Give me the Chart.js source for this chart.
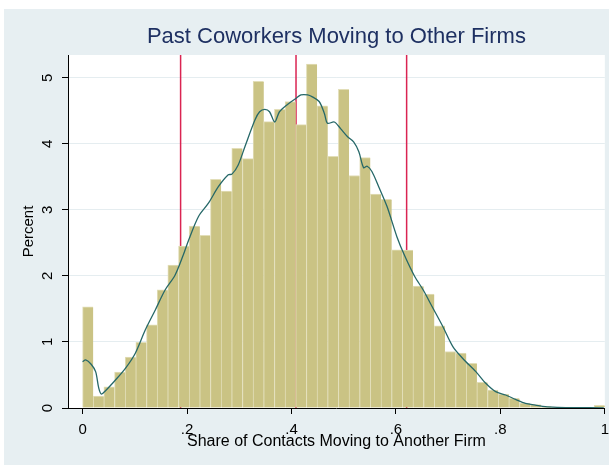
<!DOCTYPE html>
<html><head><meta charset="utf-8">
<script src="https://cdn.jsdelivr.net/npm/chart.js@4/dist/chart.umd.min.js"></script>
<style>html,body{margin:0;padding:0;overflow:hidden;background:#fff}#wrap{width:616px;height:465px}</style>
</head><body><div id="wrap"><canvas id="c" width="616" height="465"></canvas></div>
<script>
// ---- data ----
const BIN_COUNT = 49; // bins of equal width spanning 0..1
const binPercent = [1.53,0.18,0.32,0.545,0.77,0.995,1.26,1.79,2.165,2.45,2.755,2.615,3.46,3.285,3.93,3.775,4.945,
  4.335,4.52,4.64,4.29,5.205,4.575,3.81,4.825,3.52,3.79,3.24,3.16,2.395,2.39,1.845,1.725,1.245,
  0.855,0.83,0.675,0.39,0.27,0.21,0.145,0.075,0.05,0.02,0.012,0.015,0.004,0.003,0.04];
const densityX = [0,0.006,0.016,0.025,0.031,0.036,0.044,0.063,0.082,0.101,0.120,0.139,0.158,0.177,0.193,0.203,0.222,0.241,0.260,0.279,0.286,0.298,0.311,0.330,0.339,0.349,0.358,0.368,0.377,0.393,0.409,0.418,0.431,0.440,0.453,0.463,0.469,0.482,0.494,0.507,0.519,0.529,0.538,0.545,0.554,0.567,0.583,0.602,0.617,0.636,0.652,0.671,0.690,0.709,0.728,0.753,0.772,0.791,0.810,0.829,0.848,0.867,0.886,0.910,0.943,0.998];
const densityY = [0.70,0.727,0.666,0.55,0.30,0.21,0.262,0.424,0.60,0.83,1.18,1.48,1.786,2.01,2.32,2.54,2.90,3.10,3.35,3.53,3.54,3.68,3.96,4.36,4.485,4.52,4.485,4.33,4.485,4.60,4.69,4.74,4.74,4.71,4.64,4.46,4.31,4.33,4.23,4.11,4.03,3.88,3.64,3.66,3.58,3.35,3.05,2.59,2.30,1.99,1.79,1.51,1.23,0.93,0.75,0.55,0.374,0.247,0.197,0.13,0.07,0.045,0.02,0.01,0.005,0.003];
const refLineX = [0.1877, 0.4087, 0.6205];
const xTickValues = [0, 0.2, 0.4, 0.6, 0.8, 1];
const xTickLabels = ['0', '.2', '.4', '.6', '.8', '1'];
const yTickValues = [0, 1, 2, 3, 4, 5];
const titleText = 'Past Coworkers Moving to Other Firms';
const xTitleText = 'Share of Contacts Moving to Another Firm';
const yTitleText = 'Percent';

// ---- styling ----
const X_MIN = -0.0279, X_MAX = 1, Y_MAX = 5.344;
const FONT = "'Liberation Sans', Arial, sans-serif";
const BG = 'rgb(231,239,242)';
const GRID = 'rgb(229,237,240)';

const bgPlugin = {
  id: 'bg',
  beforeDraw(chart) {
    const {ctx, chartArea: a, width, height} = chart;
    ctx.save();
    ctx.fillStyle = '#fff'; ctx.fillRect(0, 0, width, height);
    ctx.fillStyle = BG; ctx.fillRect(4, 9, width - 4, height - 9);
    ctx.fillStyle = '#fff'; ctx.fillRect(a.left, a.top, a.right - a.left, a.bottom - a.top);
    ctx.restore();
  }
};

const datasets = [
  {
    type: 'line', label: 'density',
    data: densityX.map((x, i) => ({x, y: densityY[i]})),
    borderColor: 'rgb(38,104,104)', borderWidth: 1.3, pointRadius: 0, tension: 0.3, order: 0
  },
  {
    type: 'bar', label: 'share',
    data: binPercent.map((v, i) => ({x: (i + 0.5) / BIN_COUNT, y: v})),
    backgroundColor: 'rgb(202,195,132)', borderColor: 'rgb(226,222,184)',
    borderWidth: {left: 1, top: 1, right: 0, bottom: 0}, borderSkipped: false,
    barPercentage: 1, categoryPercentage: 1, order: 1
  }
].concat(refLineX.map(x => ({
  type: 'line', label: 'ref',
  data: [{x, y: 0}, {x, y: Y_MAX}],
  borderColor: 'rgb(218,36,82)', borderWidth: 1.5, pointRadius: 0, order: 2
})));

new Chart(document.getElementById('c'), {
  type: 'bar',
  data: {datasets},
  plugins: [bgPlugin],
  options: {
    responsive: false, animation: false, devicePixelRatio: 1,
    layout: {padding: {left: 0, right: 5.8, top: 0, bottom: 0}},
    plugins: {
      legend: {display: false}, tooltip: {enabled: false},
      title: {
        display: true, text: titleText, fullSize: false,
        color: 'rgb(30,48,98)', font: {family: FONT, size: 22, weight: 'normal'},
        padding: {top: 24, bottom: 4.6}
      }
    },
    scales: {
      x: {
        type: 'linear', min: X_MIN, max: X_MAX, offset: false,
        afterBuildTicks: s => { s.ticks = xTickValues.map(v => ({value: v})); },
        afterFit: s => { s.height = 57; },
        ticks: {
          autoSkip: false, maxRotation: 0, color: '#000', padding: 7,
          font: {family: FONT, size: 15},
          callback: (v) => { const i = xTickValues.indexOf(v); return i >= 0 ? xTickLabels[i] : ''; }
        },
        grid: {drawOnChartArea: false, offset: false, tickLength: 6, tickColor: '#000'},
        border: {display: true, color: '#000', width: 1},
        title: {display: true, text: xTitleText, color: '#000', font: {family: FONT, size: 16}, padding: {top: 0, bottom: 14}}
      },
      y: {
        type: 'linear', min: 0, max: Y_MAX,
        afterBuildTicks: s => { s.ticks = yTickValues.map(v => ({value: v})); },
        afterFit: s => { s.width = 68; },
        ticks: {
          minRotation: 90, maxRotation: 90, crossAlign: 'center', padding: 10, color: '#000',
          font: {family: FONT, size: 15}, callback: v => String(v)
        },
        grid: {
          color: c => (c.tick && c.tick.value === 0) ? 'rgba(0,0,0,0)' : GRID,
          lineWidth: 1, tickLength: 6, tickColor: '#000'
        },
        border: {display: true, color: '#000', width: 1},
        title: {display: true, text: yTitleText, color: '#000', font: {family: FONT, size: 15}, padding: {top: 20, bottom: 0}}
      }
    }
  }
});
</script></body></html>
